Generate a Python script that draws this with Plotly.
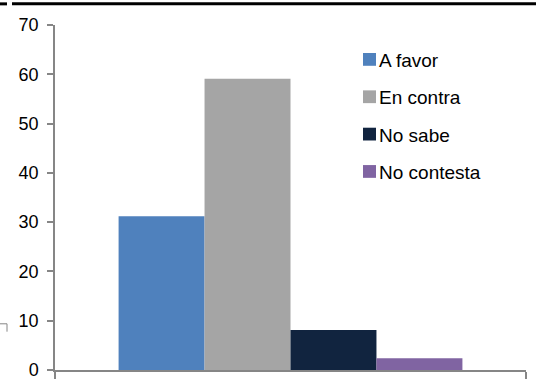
import plotly.graph_objects as go

categories = ["A favor", "En contra", "No sabe", "No contesta"]
values = [31.2, 59.1, 8.1, 2.4]
colors = ["#4F81BD", "#A5A5A5", "#11243F", "#8064A2"]
y_ticks = [0, 10, 20, 30, 40, 50, 60, 70]

W, H = 536, 390
L, R, T, B = 55, 10, 25, 14
pw, ph = W - L - R, H - T - B

def px_x(x):
    return (x - L) / pw

def px_y(y):
    return (H - B - y) / ph

fig = go.Figure()
for name, v, c in zip(categories, values, colors):
    fig.add_trace(go.Bar(x=[""], y=[v], name=name, marker=dict(color=c, line=dict(width=0)),
                         showlegend=False))

shapes = []
annotations = []
# manual legend
leg_y = [60, 98, 136, 174]
for name, c, yy in zip(categories, colors, leg_y):
    shapes.append(dict(type="rect", xref="paper", yref="paper",
                       x0=px_x(363), x1=px_x(376), y0=px_y(yy - 6.5), y1=px_y(yy + 6.5),
                       fillcolor=c, line=dict(width=0)))
    annotations.append(dict(xref="paper", yref="paper", x=px_x(377), y=px_y(yy + 1),
                            xanchor="left", yanchor="middle", showarrow=False, text=name,
                            font=dict(family="Liberation Sans Narrow, Liberation Sans, Arial", size=19, color="#000000")))

# top rule
shapes.append(dict(type="line", xref="paper", yref="paper", x0=px_x(12), x1=px_x(536),
                   y0=px_y(3.5), y1=px_y(3.5), line=dict(color="#000000", width=3)))
shapes.append(dict(type="line", xref="paper", yref="paper", x0=px_x(0), x1=px_x(7),
                   y0=px_y(3.5), y1=px_y(3.5), line=dict(color="#000000", width=3)))
# small stray mark at left
shapes.append(dict(type="path", xref="paper", yref="paper",
                   path=f"M{px_x(0)},{px_y(329)} L{px_x(7)},{px_y(329)} L{px_x(7)},{px_y(337)}",
                   line=dict(color="#868686", width=1)))

fig.update_layout(
    width=W, height=H,
    margin=dict(l=L, r=R, t=T, b=B, pad=0),
    paper_bgcolor="white", plot_bgcolor="white",
    barmode="group", bargap=0.27, bargroupgap=0,
    showlegend=False,
    shapes=shapes, annotations=annotations,
    font=dict(family="Liberation Sans, Arial", size=18, color="#000000"),
    xaxis=dict(type="category", showgrid=False, zeroline=False, showline=True,
               linecolor="#868686", linewidth=1.5, ticks="outside", tickson="boundaries",
               ticklen=7, tickcolor="#868686", tickwidth=1.5, showticklabels=False),
    yaxis=dict(range=[0, 70], tickvals=y_ticks, showgrid=False, zeroline=False,
               showline=True, linecolor="#868686", linewidth=1.5, ticks="outside",
               ticklen=6, tickcolor="#868686", tickwidth=1.5,
               tickfont=dict(family="Liberation Sans, Arial", size=18, color="#000000"),
               ticklabelstandoff=5),
)

fig.write_html("out.html")
